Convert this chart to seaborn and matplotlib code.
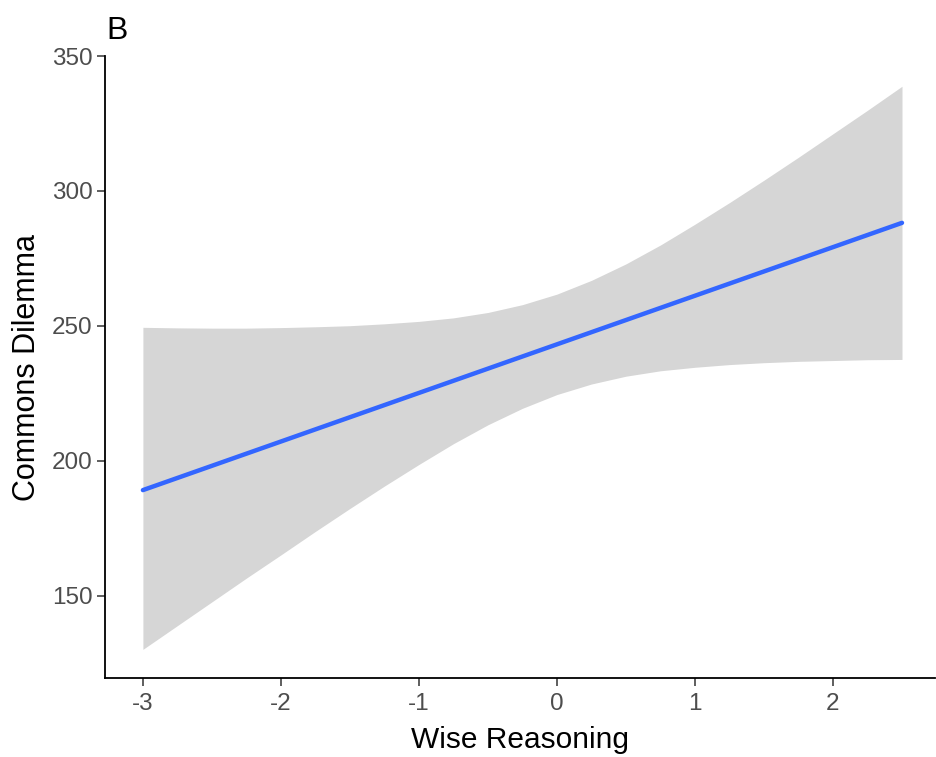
import matplotlib
matplotlib.use("Agg")
import matplotlib.pyplot as plt
import seaborn as sns
import pandas as pd

# Data
wise_reasoning = [-3.0, -2.75, -2.5, -2.25, -2.0, -1.75, -1.5, -1.25, -1.0, -0.75, -0.5, -0.25,
                  0.0, 0.25, 0.5, 0.75, 1.0, 1.25, 1.5, 1.75, 2.0, 2.25, 2.5]
commons_fit = [189.2, 193.7, 198.2, 202.7, 207.2, 211.7, 216.2, 220.7, 225.2, 229.7, 234.2, 238.7,
               243.2, 247.7, 252.2, 256.7, 261.2, 265.7, 270.2, 274.7, 279.2, 283.7, 288.2]
ci_upper = [249.5, 249.3, 249.2, 249.2, 249.4, 249.7, 250.1, 250.8, 251.7, 253.0, 255.0, 257.9,
            261.8, 266.9, 273.0, 280.0, 287.7, 295.7, 304.0, 312.5, 321.2, 329.9, 338.8]
ci_lower = [130.2, 139.0, 147.8, 156.6, 165.2, 173.9, 182.4, 190.7, 198.7, 206.4, 213.4, 219.5,
            224.6, 228.5, 231.4, 233.4, 234.7, 235.7, 236.4, 236.9, 237.2, 237.5, 237.6]
x_ticks = [-3, -2, -1, 0, 1, 2]
y_ticks = [150, 200, 250, 300, 350]

df = pd.DataFrame({"x": wise_reasoning, "y": commons_fit, "lo": ci_lower, "hi": ci_upper})

sns.set_style("ticks")
plt.rcParams['font.family'] = ['Liberation Sans', 'DejaVu Sans']

fig = plt.figure(figsize=(9.37, 7.57), dpi=100)
ax = fig.add_axes([0.112, 0.104, 0.886, 0.822])

ax.fill_between(df["x"], df["lo"], df["hi"], color="#D6D6D6", linewidth=0, zorder=1)
sns.lineplot(data=df, x="x", y="y", ax=ax, color="#3366FF", linewidth=3.2, zorder=2)

ax.set_xlim(-3.275, 2.74)
ax.set_ylim(119.5, 349.8)
ax.set_xticks(x_ticks)
ax.set_xticklabels([str(t) for t in x_ticks])
ax.set_yticks(y_ticks)
ax.set_yticklabels([str(t) for t in y_ticks])

for side in ["top", "right"]:
    ax.spines[side].set_visible(False)
for side in ["left", "bottom"]:
    ax.spines[side].set_color("black")
    ax.spines[side].set_linewidth(1.3)

ax.tick_params(axis="both", length=5.5, width=1.1, color="#333333",
               labelcolor="#4D4D4D", labelsize=17.5)
ax.tick_params(axis="x", pad=5)
ax.tick_params(axis="y", pad=3.5)
ax.set_xlabel("Wise Reasoning", fontsize=21.5, color="black", labelpad=8)
ax.set_ylabel("Commons Dilemma", fontsize=22, color="black", labelpad=7)
ax.grid(False)

fig.text(0.113, 0.948, "B", fontsize=23, color="black", ha="left", va="baseline")

fig.savefig("out.png", dpi=100)
